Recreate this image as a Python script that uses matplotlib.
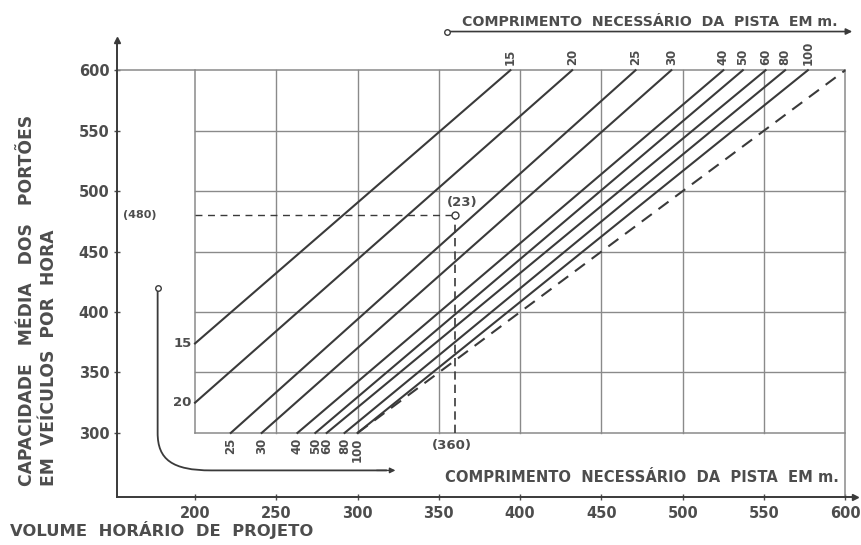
import matplotlib
matplotlib.use('Agg')
import matplotlib.pyplot as plt
from matplotlib.path import Path
from matplotlib.patches import PathPatch, FancyArrowPatch

plt.rcParams['font.family'] = ['DejaVu Sans']
plt.rcParams['font.weight'] = 'bold'

# comprimento necessário da pista (m) e pontos extremos de cada reta
lengths = [15, 20, 25, 30, 40, 50, 60, 80, 100]
start_x = [200, 200, 222, 241, 263, 274, 281, 292, 300]
start_y = [374, 325, 300, 300, 300, 300, 300, 300, 300]
end_x = [394, 432, 471, 493, 525, 537, 551, 563, 577]
end_y = [600, 600, 600, 600, 600, 600, 600, 600, 600]

# reta limite (tracejada)
limit_x = [300, 600]
limit_y = [300, 600]

# exemplo
ex_volume = 360
ex_capacity = 480
ex_length = 23

x_ticks = [200, 250, 300, 350, 400, 450, 500, 550, 600]
y_ticks = [300, 350, 400, 450, 500, 550, 600]

ink = '#3a3a3a'
grid_c = '#8a8a8a'
txt = '#4d4d4d'

fig = plt.figure(figsize=(8.61, 5.45), dpi=100)
ax = fig.add_axes([117 / 861, 48 / 545, 738 / 861, 457 / 545])
ax.set_xlim(152, 606)
ax.set_ylim(247, 625)

for s in ['top', 'right']:
    ax.spines[s].set_visible(False)
for s in ['left', 'bottom']:
    ax.spines[s].set_color(ink)
    ax.spines[s].set_linewidth(1.4)
ax.plot(1, 0, '>', color=ink, ms=5, transform=ax.transAxes, clip_on=False)
ax.plot(0, 1, '^', color=ink, ms=5, transform=ax.transAxes, clip_on=False)

ax.set_xticks(x_ticks)
ax.set_yticks(y_ticks)
ax.tick_params(direction='inout', length=5, width=1, colors=txt, labelsize=10.5)
ax.tick_params(axis='x', pad=4)
ax.tick_params(axis='y', pad=3)

# quadricula
x0, x1 = x_ticks[0], x_ticks[-1]
y0, y1 = y_ticks[0], y_ticks[-1]
for xv in x_ticks[1:-1]:
    ax.plot([xv, xv], [y0, y1], color=grid_c, lw=1)
for yv in y_ticks[1:-1]:
    ax.plot([x0, x1], [yv, yv], color=grid_c, lw=1)
ax.plot([x0, x0], [y0, y1], color=grid_c, lw=1.1)
ax.plot([x0, x1], [y0, y0], color=grid_c, lw=1.1)
ax.plot([152, x1], [y1, y1], color=grid_c, lw=1.1)
ax.plot([x1, x1], [247, y1], color=grid_c, lw=1.1)

# retas de comprimento
for L, xs, ys, xe, ye in zip(lengths, start_x, start_y, end_x, end_y):
    ax.plot([xs, xe], [ys, ye], color=ink, lw=1.5)
    ax.text(xe, ye + 4, str(L), rotation=90, ha='center', va='bottom',
            fontsize=8.5, color=txt)
    if xs == x0:
        ax.text(xs - 2, ys, str(L), ha='right', va='center', fontsize=9.5, color=txt)
    else:
        ax.text(xs, ys - 4, str(L), rotation=90, ha='center', va='top',
                fontsize=8.5, color=txt)

ax.plot(limit_x, limit_y, color=ink, lw=1.5, ls=(0, (6, 4)))

# exemplo
ax.plot([x0, ex_volume], [ex_capacity, ex_capacity], color=ink, lw=1, ls=(0, (5, 4)))
ax.plot([ex_volume, ex_volume], [y0, ex_capacity], color=ink, lw=1.2, ls=(0, (5, 3)))
ax.plot(ex_volume, ex_capacity, 'o', mfc='white', mec=ink, ms=5, mew=1)
ax.text(ex_volume - 5, ex_capacity + 5, '(%d)' % ex_length, ha='left', va='bottom',
        fontsize=9.5, color=txt)
ax.text(166, ex_capacity, '(%d)' % ex_capacity, ha='center', va='center',
        fontsize=8, color=txt)
ax.text(ex_volume - 2, y0 - 5, '(%d)' % ex_volume, ha='center', va='top',
        fontsize=9.5, color=txt)

# seta curva (eixo inferior de comprimento)
verts = [(177, 420), (177, 300), (177, 278), (186, 269), (210, 269), (318, 269)]
codes = [Path.MOVETO, Path.LINETO, Path.CURVE4, Path.CURVE4, Path.CURVE4, Path.LINETO]
ax.add_patch(PathPatch(Path(verts, codes), fill=False, ec=ink, lw=1.3, clip_on=False))
ax.add_patch(FancyArrowPatch((310, 269), (325, 269), arrowstyle='-|>', mutation_scale=8,
                             color=ink, lw=1, clip_on=False))
ax.plot(177, 420, 'o', mfc='white', mec=ink, ms=4, mew=1, clip_on=False)
ax.text(354, 263, 'COMPRIMENTO  NECESSÁRIO  DA  PISTA  EM m.', ha='left', va='center',
        fontsize=10.6, color=txt)

# seta superior
ax.add_patch(FancyArrowPatch((355, 632), (606, 632), arrowstyle='-|>', mutation_scale=9,
                             color=ink, lw=1.2, clip_on=False))
ax.plot(355, 632, 'o', mfc='white', mec=ink, ms=4, mew=1, clip_on=False)
ax.text(364, 634, 'COMPRIMENTO  NECESSÁRIO  DA  PISTA  EM m.', ha='left', va='bottom',
        fontsize=10.2, color=txt)

# titulos dos eixos
fig.text(27 / 861, 1 - 486 / 545, 'CAPACIDADE   MÉDIA   DOS   PORTÕES', rotation=90,
         rotation_mode='anchor', ha='left', va='center', fontsize=12.3, color=txt)
fig.text(49 / 861, 1 - 486 / 545, 'EM  VEÍCULOS  POR  HORA', rotation=90,
         rotation_mode='anchor', ha='left', va='center', fontsize=12.3, color=txt)
fig.text(10 / 861, 1 - 530 / 545, 'VOLUME  HORÁRIO  DE  PROJETO', ha='left',
         va='center', fontsize=11.8, color=txt)

fig.savefig('out.png', dpi=100)
